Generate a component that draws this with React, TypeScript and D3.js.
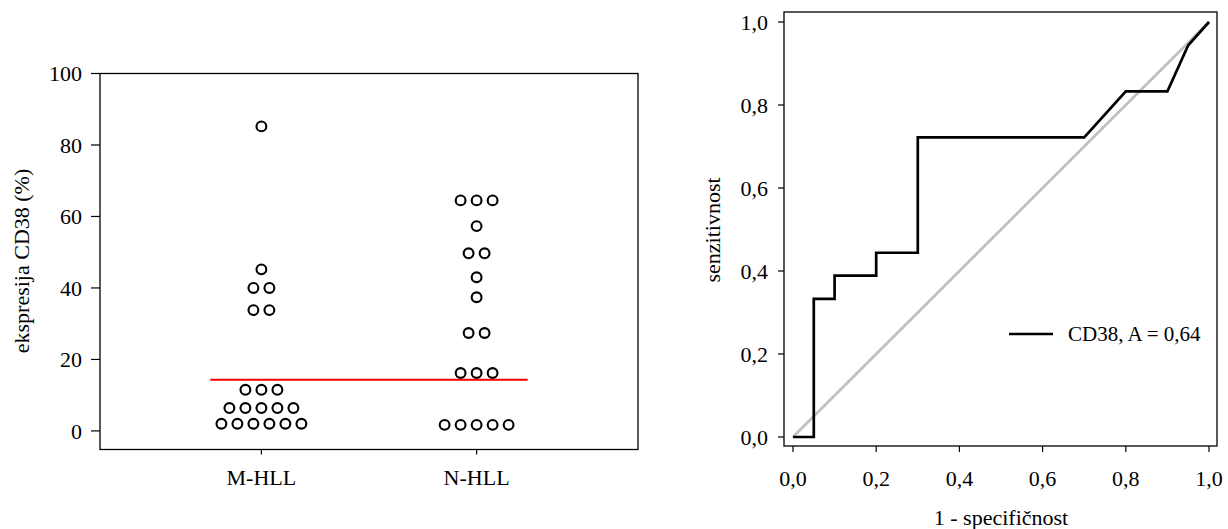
import React from "react";
import * as d3 from "d3";

// ---- Data ----
const categories = ["M-HLL", "N-HLL"];
const mhllValues = [85.2, 45.2, 40, 40, 33.8, 33.8, 11.5, 11.5, 11.5, 6.4, 6.4, 6.4, 6.4, 6.4, 2, 2, 2, 2, 2, 2];
const nhllValues = [64.5, 64.5, 64.5, 57.3, 49.7, 49.7, 43, 37.4, 27.4, 27.4, 16.2, 16.2, 16.2, 1.7, 1.7, 1.7, 1.7, 1.7];
const cutoffValue = 14.3;
const leftYTicks = [0, 20, 40, 60, 80, 100];

const rocFpr = [0, 0.05, 0.05, 0.1, 0.1, 0.2, 0.2, 0.3, 0.3, 0.7, 0.8, 0.9, 0.95, 1];
const rocTpr = [0, 0, 0.333, 0.333, 0.389, 0.389, 0.444, 0.444, 0.722, 0.722, 0.833, 0.833, 0.944, 1];
const rocTicks = [0, 0.2, 0.4, 0.6, 0.8, 1.0];
const legendLabel = "CD38, A = 0,64";

const FONT = "'Liberation Serif', 'Times New Roman', serif";

function rowsOf(values: number[]) {
  const m = d3.group(values, (v) => v);
  const out: { v: number; k: number; n: number }[] = [];
  for (const [v, arr] of m) {
    arr.forEach((_, k) => out.push({ v, k, n: arr.length }));
  }
  return out;
}

export default function App() {
  // Left chart
  const L = { left: 100, right: 638, top: 73.5, bottom: 449.5 };
  const xL = d3.scaleLinear().domain([0, 1]).range([L.left, L.right]);
  const yL = d3.scaleLinear().domain([-5.2, 100]).range([L.bottom, L.top]);
  const catPos = [0.3, 0.7];
  const dotGap = 16;
  const groupsData = [mhllValues, nhllValues];

  // Right chart
  const R = { left: 784, right: 1217, top: 12, bottom: 446 };
  const xR = d3.scaleLinear().domain([-0.0216, 1.0192]).range([R.left, R.right]);
  const yR = d3.scaleLinear().domain([-0.0217, 1.0241]).range([R.bottom, R.top]);
  const rocLine = d3
    .line<number>()
    .x((_, i) => xR(rocFpr[i]))
    .y((_, i) => yR(rocTpr[i]));
  const fmt = (v: number) => d3.format(".1f")(v).replace(".", ",");

  return (
    <svg
      width={1228}
      height={529}
      style={{ position: "absolute", left: 0, top: 0, display: "block", background: "#fff" }}
      fontFamily={FONT}
    >
      {/* ===== Left chart ===== */}
      <rect x={L.left} y={L.top} width={L.right - L.left} height={L.bottom - L.top} fill="none" stroke="#000" strokeWidth={1.3} />
      {leftYTicks.map((t) => (
        <g key={t}>
          <line x1={L.left - 9} x2={L.left} y1={yL(t)} y2={yL(t)} stroke="#000" strokeWidth={1.2} />
          <text x={82} y={yL(t)} dy="0.35em" textAnchor="end" fontSize={22}>
            {t}
          </text>
        </g>
      ))}
      {categories.map((c, i) => (
        <g key={c}>
          <line x1={xL(catPos[i])} x2={xL(catPos[i])} y1={L.bottom} y2={L.bottom + 5} stroke="#000" strokeWidth={1.2} />
          <text x={xL(catPos[i])} y={485} textAnchor="middle" fontSize={22}>
            {c}
          </text>
        </g>
      ))}
      <text transform={`translate(29,261) rotate(-90)`} textAnchor="middle" fontSize={22}>
        ekspresija CD38 (%)
      </text>
      {groupsData.map((vals, gi) =>
        rowsOf(vals).map((d, j) => (
          <circle
            key={`${gi}-${j}`}
            cx={xL(catPos[gi]) + (d.k - (d.n - 1) / 2) * dotGap}
            cy={yL(d.v)}
            r={4.9}
            fill="none"
            stroke="#000"
            strokeWidth={2.1}
          />
        ))
      )}
      <line
        x1={xL(catPos[0] - 0.095)}
        x2={xL(catPos[1] + 0.095)}
        y1={yL(cutoffValue)}
        y2={yL(cutoffValue)}
        stroke="#ff0000"
        strokeWidth={2}
      />

      {/* ===== Right chart ===== */}
      <line x1={xR(0)} y1={yR(0)} x2={xR(1)} y2={yR(1)} stroke="#c0c0c0" strokeWidth={2.8} />
      <path d={rocLine(rocFpr) || ""} fill="none" stroke="#000" strokeWidth={2.7} />
      <rect x={R.left} y={R.top} width={R.right - R.left} height={R.bottom - R.top} fill="none" stroke="#000" strokeWidth={1.3} />
      {rocTicks.map((t) => (
        <g key={`y${t}`}>
          <line x1={R.left - 6} x2={R.left} y1={yR(t)} y2={yR(t)} stroke="#000" strokeWidth={1.2} />
          <text x={768} y={yR(t)} dy="0.35em" textAnchor="end" fontSize={22}>
            {fmt(t)}
          </text>
        </g>
      ))}
      {rocTicks.map((t) => (
        <g key={`x${t}`}>
          <line x1={xR(t)} x2={xR(t)} y1={R.bottom} y2={R.bottom + 6} stroke="#000" strokeWidth={1.2} />
          <text x={xR(t)} y={486} textAnchor="middle" fontSize={22}>
            {fmt(t)}
          </text>
        </g>
      ))}
      <text transform={`translate(720,230) rotate(-90)`} textAnchor="middle" fontSize={22}>
        senzitivnost
      </text>
      <text x={1001} y={525} textAnchor="middle" fontSize={22}>
        1 - specifičnost
      </text>
      <line x1={1009} x2={1053} y1={334} y2={334} stroke="#000" strokeWidth={2.7} />
      <text x={1068} y={334} dy="0.35em" fontSize={21}>
        {legendLabel}
      </text>
    </svg>
  );
}
